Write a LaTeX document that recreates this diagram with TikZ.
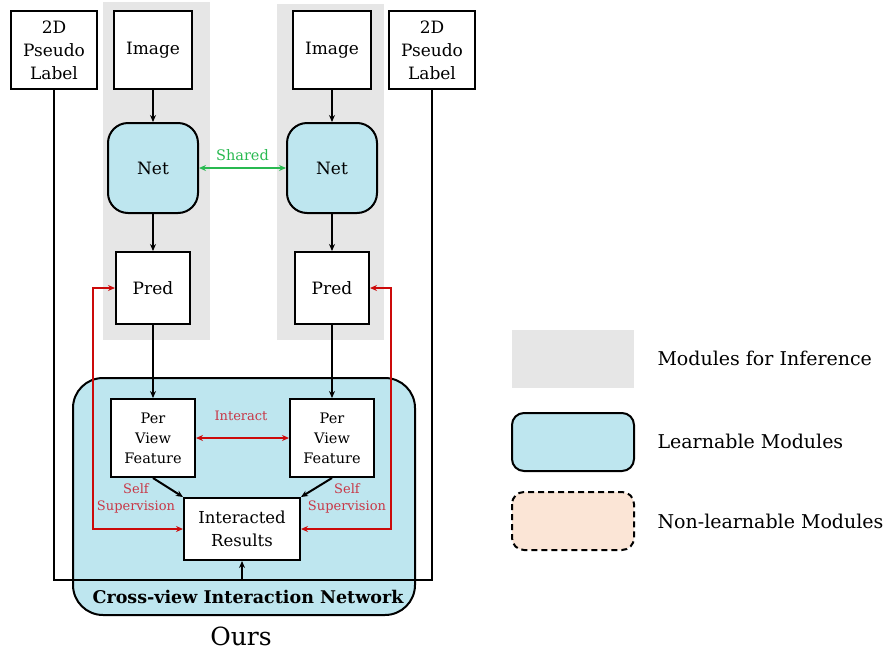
\documentclass[tikz,border=0pt]{standalone}
\usepackage{fontspec}
\setmainfont{DejaVu Serif}
\usetikzlibrary{arrows.meta}
\definecolor{panelgrey}{RGB}{230,230,230}
\definecolor{learnblue}{RGB}{190,230,239}
\definecolor{peach}{RGB}{251,229,214}
\definecolor{fbred}{RGB}{204,10,10}
\definecolor{lblred}{RGB}{200,55,70}
\definecolor{sharegreen}{RGB}{40,185,80}
\tikzset{
  box/.style={draw=black, line width=2pt, fill=white, align=center, inner sep=0pt,
    font=\fontsize{17}{23}\selectfont},
  netbox/.style={draw=black, line width=2pt, fill=learnblue, rounded corners=20pt,
    align=center, inner sep=0pt, minimum width=90pt, minimum height=90pt,
    font=\fontsize{17}{23}\selectfont},
  pvfbox/.style={box, minimum width=84pt, minimum height=78pt, font=\fontsize{14.5}{20}\selectfont},
  flow/.style={line width=2pt, -{Stealth[length=7pt,width=6pt]}},
  fb/.style={line width=2pt, draw=fbred, {Stealth[length=7pt,width=6pt]}-{Stealth[length=7pt,width=6pt]}},
  redlbl/.style={text=lblred, align=center, font=\fontsize{13}{17}\selectfont},
  legtext/.style={anchor=west, font=\fontsize{19}{22}\selectfont},
}
\begin{document}
\begin{tikzpicture}[x=1pt, y=-1pt]
\useasboundingbox (0,0) rectangle (889,651);

% inference panels
\fill[panelgrey] (103,2) rectangle (210,340);
\fill[panelgrey] (277,4) rectangle (384,340);

% cross-view interaction network container
\draw[line width=2pt, fill=learnblue, rounded corners=30pt] (73,378) rectangle (415,615);

% column nodes
\node[box, minimum width=86pt, minimum height=78pt] (lab1) at (54,50) {2D\\Pseudo\\Label};
\node[box, minimum width=78pt, minimum height=78pt] (img1) at (153,50) {Image};
\node[netbox] (net1) at (153,168) {Net};
\node[box, minimum width=74pt, minimum height=72pt] (pred1) at (153,288) {Pred};

\node[box, minimum width=78pt, minimum height=78pt] (img2) at (332,50) {Image};
\node[netbox] (net2) at (332,168) {Net};
\node[box, minimum width=74pt, minimum height=72pt] (pred2) at (332,288) {Pred};
\node[box, minimum width=86pt, minimum height=78pt] (lab2) at (432,50) {2D\\Pseudo\\Label};

\node[pvfbox] (pvf1) at (153,438) {Per\\View\\Feature};
\node[pvfbox] (pvf2) at (332,438) {Per\\View\\Feature};
\node[box, minimum width=116pt, minimum height=62pt, font=\fontsize{16.5}{23}\selectfont] (ir) at (242,529) {Interacted\\Results};

% main flow
\draw[flow] (img1) -- (net1);
\draw[flow] (net1) -- (pred1);
\draw[flow] (pred1) -- (pvf1);
\draw[flow] (img2) -- (net2);
\draw[flow] (net2) -- (pred2);
\draw[flow] (pred2) -- (pvf2);
\draw[flow] (pvf1.south) -- (ir.north west);
\draw[flow] (pvf2.south) -- (ir.north east);

% shared weights
\draw[line width=2pt, draw=sharegreen, {Stealth[length=7pt,width=6pt]}-{Stealth[length=7pt,width=6pt]}] (net1) -- (net2)
  node[midway, above=3pt, text=sharegreen, font=\fontsize{14.5}{17}\selectfont] (sharedlbl) {Shared};

% interaction between views
\draw[fb] (pvf1) -- (pvf2);
\node[redlbl] (interactlbl) at (241,416) {Interact};

% self supervision loops
\draw[fb] (ir.west) -- ++(-90,0) |- (pred1.west);
\draw[fb] (ir.east) -- ++(90,0) |- (pred2.east);
\node[redlbl] (ss1) at (136,498) {Self\\Supervision};
\node[redlbl] (ss2) at (347,498) {Self\\Supervision};

% pseudo-label supervision
\coordinate (bl) at (54,580);
\coordinate (br) at (432,580);
\coordinate (jn) at (242,580);
\draw[line width=2pt] (lab1.south) -- (bl) -- (br) -- (lab2.south);
\draw[flow] (jn) -- (ir.south);

\node[font=\bfseries\fontsize{17.5}{20}\selectfont] (cvin) at (248,597) {Cross-view Interaction Network};
\node[font=\fontsize{25}{30}\selectfont] (ours) at (241,636) {Ours};

% legend
\fill[panelgrey] (512,330) rectangle (634,388);
\draw[line width=2pt, fill=learnblue, rounded corners=12pt] (512,413) rectangle (634,471);
\draw[line width=2pt, fill=peach, dashed, dash pattern=on 6pt off 4pt, rounded corners=12pt] (512,492) rectangle (634,550);
\node[legtext] (leg1) at (654,358) {Modules for Inference};
\node[legtext] (leg2) at (654,441) {Learnable Modules};
\node[legtext] (leg3) at (654,521) {Non-learnable Modules};
\end{tikzpicture}
\end{document}
